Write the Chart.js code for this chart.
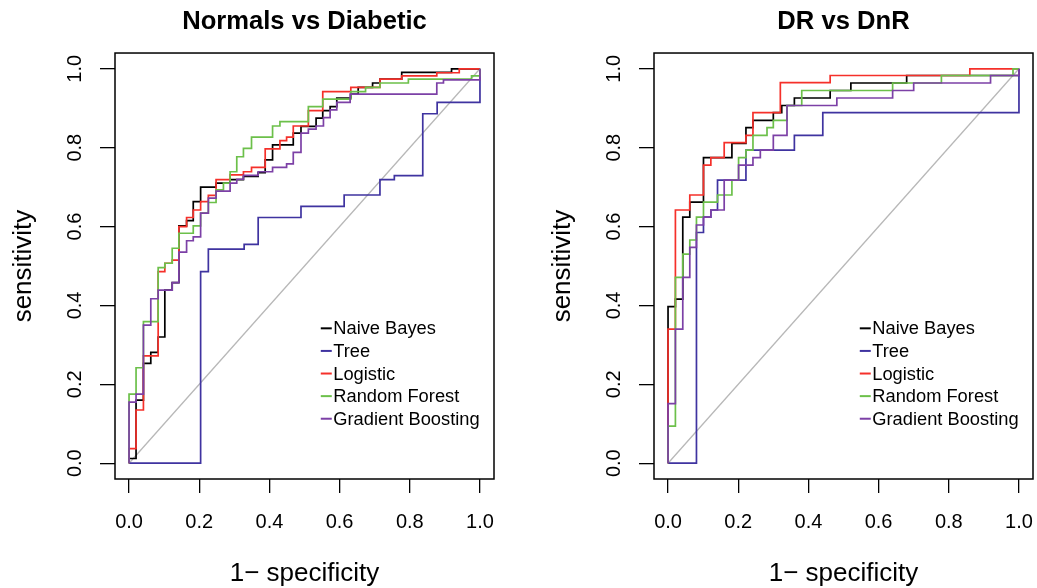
<!DOCTYPE html>
<html>
<head>
<meta charset="utf-8">
<script src="https://cdn.jsdelivr.net/npm/chart.js@4.4.1/dist/chart.umd.min.js"></script>
<style>
  html, body { margin: 0; padding: 0; background: #fff; overflow: hidden; }
  #wrap { position: relative; width: 1037px; height: 588px; }
  .panel { position: absolute; top: 0; width: 518px; height: 588px; }
</style>
</head>
<body>
<div id="wrap">
  <div class="panel" style="left:0"><canvas id="left" width="518" height="588"></canvas></div>
  <div class="panel" style="left:539px"><canvas id="right" width="518" height="588"></canvas></div>
</div>
<script>
// ROC step points [1 - specificity, sensitivity], top of each rise
const modelLabels = ['Naive Bayes', 'Tree', 'Logistic', 'Random Forest', 'Gradient Boosting'];
const tickValues = [0, 0.2, 0.4, 0.6, 0.8, 1.0];

// Normals vs Diabetic
const ndNaiveBayes = [[0,0],[0,0.012],[0.02,0.16],[0.041,0.253],[0.062,0.281],[0.083,0.32],[0.102,0.439],[0.123,0.458],[0.142,0.602],[0.164,0.615],[0.183,0.663],[0.204,0.70],[0.248,0.71],[0.288,0.719],[0.326,0.727],[0.368,0.737],[0.388,0.769],[0.409,0.807],[0.468,0.837],[0.49,0.854],[0.533,0.875],[0.552,0.894],[0.573,0.904],[0.592,0.926],[0.632,0.936],[0.653,0.953],[0.694,0.964],[0.715,0.974],[0.777,0.991],[0.919,1.0],[1,1]];
const ndTree = [[0,0],[0.204,0.486],[0.226,0.543],[0.328,0.555],[0.368,0.623],[0.49,0.651],[0.613,0.68],[0.715,0.719],[0.756,0.729],[0.837,0.886],[0.878,0.915],[1,1]];
const ndLogistic = [[0,0],[0,0.037],[0.02,0.135],[0.041,0.272],[0.083,0.486],[0.102,0.507],[0.123,0.515],[0.142,0.60],[0.164,0.623],[0.183,0.642],[0.204,0.663],[0.226,0.679],[0.248,0.719],[0.288,0.731],[0.326,0.739],[0.349,0.75],[0.388,0.797],[0.43,0.818],[0.449,0.827],[0.468,0.855],[0.511,0.894],[0.552,0.942],[0.632,0.953],[0.715,0.974],[0.777,0.982],[0.877,0.99],[0.941,1.0],[1,1]];
const ndRandomForest = [[0,0],[0,0.175],[0.02,0.242],[0.041,0.359],[0.083,0.496],[0.102,0.507],[0.123,0.545],[0.142,0.583],[0.183,0.602],[0.204,0.634],[0.226,0.661],[0.248,0.693],[0.269,0.71],[0.288,0.739],[0.307,0.777],[0.326,0.798],[0.349,0.827],[0.409,0.855],[0.43,0.866],[0.511,0.904],[0.552,0.923],[0.632,0.942],[0.674,0.953],[0.715,0.964],[0.796,0.974],[0.976,0.982],[1,1]];
const ndBoosting = [[0,0],[0,0.155],[0.02,0.175],[0.041,0.35],[0.062,0.417],[0.083,0.439],[0.123,0.458],[0.142,0.535],[0.164,0.564],[0.183,0.574],[0.204,0.634],[0.226,0.672],[0.248,0.69],[0.288,0.71],[0.307,0.72],[0.326,0.73],[0.368,0.739],[0.409,0.75],[0.449,0.759],[0.468,0.788],[0.49,0.837],[0.511,0.847],[0.533,0.855],[0.554,0.876],[0.573,0.896],[0.592,0.915],[0.63,0.936],[0.877,0.964],[0.896,0.972],[1,1]];

// DR vs DnR
const drNaiveBayes = [[0,0],[0,0.397],[0.021,0.416],[0.042,0.624],[0.062,0.662],[0.101,0.775],[0.182,0.811],[0.222,0.851],[0.242,0.869],[0.30,0.889],[0.324,0.907],[0.36,0.926],[0.462,0.945],[0.521,0.964],[0.68,0.983],[1,1]];
const drTree = [[0,0],[0.081,0.585],[0.101,0.624],[0.122,0.642],[0.141,0.718],[0.222,0.794],[0.36,0.831],[0.441,0.889],[1,1]];
const drLogistic = [[0,0],[0,0.34],[0.021,0.642],[0.062,0.68],[0.101,0.756],[0.122,0.775],[0.16,0.813],[0.222,0.831],[0.242,0.889],[0.32,0.965],[0.462,0.983],[0.86,1.0],[1,1]];
const drRandomForest = [[0,0],[0,0.094],[0.021,0.471],[0.042,0.53],[0.062,0.566],[0.081,0.624],[0.101,0.662],[0.141,0.68],[0.182,0.718],[0.201,0.775],[0.222,0.794],[0.242,0.831],[0.282,0.851],[0.30,0.869],[0.339,0.907],[0.381,0.945],[0.64,0.964],[0.779,0.983],[0.983,1.0],[1,1]];
const drBoosting = [[0,0],[0,0.151],[0.021,0.34],[0.042,0.471],[0.062,0.547],[0.081,0.604],[0.101,0.624],[0.122,0.642],[0.16,0.718],[0.201,0.756],[0.242,0.775],[0.263,0.794],[0.30,0.831],[0.339,0.907],[0.481,0.926],[0.64,0.945],[0.70,0.964],[0.919,0.983],[1,1]];

const modelColors = ['#000000', '#3f33a0', '#f5302a', '#6cc04a', '#7c40a6'];
const fontFamily = '"Liberation Sans", Arial, Helvetica, sans-serif';
const legendAt = { x: 0.582, y: 0.342 };

// box round the plot region, like R's box()
const boxPlugin = {
    id: 'box',
    afterDatasetsDraw(chart) {
        const a = chart.chartArea;
        const ctx = chart.ctx;
        ctx.save();
        ctx.strokeStyle = '#000';
        ctx.lineWidth = 1.5;
        ctx.strokeRect(a.left, a.top, a.right - a.left, a.bottom - a.top);
        ctx.restore();
    }
};

// legend inside the plot, without box
const innerLegend = {
    id: 'innerLegend',
    afterDraw(chart) {
        const ctx = chart.ctx;
        const x0 = chart.scales.x.getPixelForValue(legendAt.x);
        const y0 = chart.scales.y.getPixelForValue(legendAt.y);
        ctx.save();
        ctx.font = '18.3px ' + fontFamily;
        ctx.textBaseline = 'middle';
        ctx.fillStyle = '#000';
        chart.data.datasets.forEach((ds, i) => {
            if (!ds.inLegend) return;
            const y = y0 + i * 22.6;
            ctx.strokeStyle = ds.borderColor;
            ctx.lineWidth = 2;
            ctx.beginPath();
            ctx.moveTo(x0 - 12.5, y);
            ctx.lineTo(x0 - 1.5, y);
            ctx.stroke();
            ctx.fillText(ds.label, x0, y + 1);
        });
        ctx.restore();
    }
};

function makeChart(id, title, curves) {
    const datasets = curves.map((pts, i) => ({
        label: modelLabels[i],
        inLegend: true,
        data: pts.map(p => ({ x: p[0], y: p[1] })),
        borderColor: modelColors[i],
        borderWidth: 1.7,
        stepped: 'before',
        pointRadius: 0,
        fill: false,
        order: 5 - i,
    }));
    datasets.push({
        label: 'chance',
        inLegend: false,
        data: [{ x: 0, y: 0 }, { x: 1, y: 1 }],
        borderColor: '#b8b8b8',
        borderWidth: 1.3,
        pointRadius: 0,
        fill: false,
        order: 10,
    });

    new Chart(document.getElementById(id), {
        type: 'line',
        data: { datasets: datasets },
        plugins: [boxPlugin, innerLegend],
        options: {
            responsive: false,
            animation: false,
            devicePixelRatio: 1,
            layout: { padding: { left: 0, right: 24, top: 0, bottom: 0 } },
            plugins: {
                legend: { display: false },
                tooltip: { enabled: false },
                title: {
                    display: true,
                    text: title,
                    fullSize: false,
                    color: '#000',
                    font: { family: fontFamily, size: 25.6, weight: 'bold' },
                    padding: { top: 7, bottom: 15.3 },
                },
            },
            scales: {
                x: {
                    type: 'linear',
                    min: -0.04,
                    max: 1.04,
                    afterBuildTicks: s => { s.ticks = tickValues.map(v => ({ value: v })); },
                    afterFit: s => { s.height = 109; },
                    ticks: {
                        callback: v => v.toFixed(1),
                        color: '#000',
                        font: { family: fontFamily, size: 20 },
                        padding: 17,
                        maxRotation: 0,
                        autoSkip: false,
                    },
                    grid: { drawOnChartArea: false, drawTicks: true, tickLength: 14, color: '#000', lineWidth: 1.3 },
                    border: { display: false },
                    title: {
                        display: true,
                        text: '1\u2212 specificity',
                        color: '#000',
                        font: { family: fontFamily, size: 26 },
                        padding: { top: 0, bottom: -1 },
                    },
                },
                y: {
                    type: 'linear',
                    min: -0.04,
                    max: 1.04,
                    afterBuildTicks: s => { s.ticks = tickValues.map(v => ({ value: v })); },
                    afterFit: s => { s.width = 115; },
                    ticks: {
                        callback: v => v.toFixed(1),
                        color: '#000',
                        font: { family: fontFamily, size: 20 },
                        padding: 11,
                        minRotation: 90,
                        maxRotation: 90,
                        crossAlign: 'center',
                        autoSkip: false,
                    },
                    grid: { drawOnChartArea: false, drawTicks: true, tickLength: 15, color: '#000', lineWidth: 1.3 },
                    border: { display: false },
                    title: {
                        display: true,
                        text: 'sensitivity',
                        color: '#000',
                        font: { family: fontFamily, size: 26 },
                        padding: { top: 8.4, bottom: 0 },
                    },
                },
            },
        },
    });
}

makeChart('left', 'Normals vs Diabetic', [ndNaiveBayes, ndTree, ndLogistic, ndRandomForest, ndBoosting]);
makeChart('right', 'DR vs DnR', [drNaiveBayes, drTree, drLogistic, drRandomForest, drBoosting]);
</script>
</body>
</html>
